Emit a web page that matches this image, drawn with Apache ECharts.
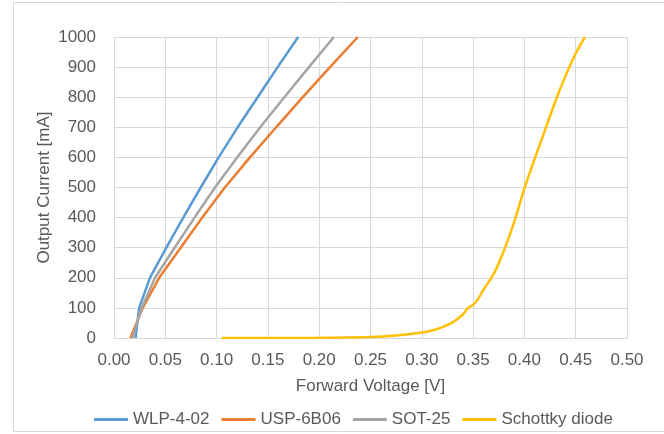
<!DOCTYPE html>
<html>
<head>
<meta charset="utf-8">
<script src="https://cdn.jsdelivr.net/npm/echarts@6/dist/echarts.min.js"></script>
<style>html,body{margin:0;padding:0;background:#fff}#c{width:664px;height:434px}</style>
</head>
<body>
<div id="c"></div>
<script>
const seriesNames = ['WLP-4-02', 'USP-6B06', 'SOT-25', 'Schottky diode'];
const xAxisTitle = 'Forward Voltage [V]';
const yAxisTitle = 'Output Current [mA]';
const xTickLabels = ['0.00','0.05','0.10','0.15','0.20','0.25','0.30','0.35','0.40','0.45','0.50'];
const yTickLabels = ['0','100','200','300','400','500','600','700','800','900','1000'];

const wlpV = [0.021, 0.0245, 0.035, 0.051, 0.0675, 0.0845, 0.102, 0.1205, 0.140, 0.1595, 0.1795];
const wlpI = [0, 100, 200, 300, 400, 500, 600, 700, 800, 900, 1000];

const uspV = [0.016, 0.028, 0.044, 0.065, 0.086, 0.108, 0.1325, 0.158, 0.184, 0.2105, 0.2377];
const uspI = [0, 100, 200, 300, 400, 500, 600, 700, 800, 900, 1000];

const sotV = [0.018, 0.027, 0.040, 0.059, 0.0785, 0.0984, 0.120, 0.1425, 0.166, 0.190, 0.2143];
const sotI = [0, 100, 200, 300, 400, 500, 600, 700, 800, 900, 1000];

const schV = [0.105, 0.15, 0.20, 0.25, 0.275, 0.30, 0.31, 0.32, 0.33, 0.34, 0.345, 0.35, 0.355, 0.36, 0.37, 0.38, 0.39, 0.40, 0.41, 0.42, 0.43, 0.44, 0.45, 0.459];
const schI = [0, 0, 0.5, 3, 8, 18, 25, 36, 52, 78, 100, 110, 130, 160, 212, 290, 385, 497, 595, 690, 785, 870, 945, 1000];

const colors = ['#5B9BD5', '#ED7D31', '#A5A5A5', '#FFC000'];
const pairs = (xs, ys) => xs.map((x, i) => [x, ys[i]]);
const dataSets = [pairs(wlpV, wlpI), pairs(uspV, uspI), pairs(sotV, sotI), pairs(schV, schI)];
const smoothing = [false, false, false, 0.25];

const txt = '#595959';
const font = 'Liberation Sans, Arial, sans-serif';
const chart = echarts.init(document.getElementById('c'), null, {renderer: 'canvas'});
chart.setOption({
  animation: false,
  color: colors,
  textStyle: {fontFamily: font, color: txt},
  graphic: [{
    type: 'rect', z: -10,
    shape: {x: 13.5, y: 2.5, width: 700, height: 429},
    style: {fill: '#fff', stroke: '#d9d9d9', lineWidth: 1}
  }, {
    type: 'text', x: 44, y: 187.5, rotation: Math.PI / 2,
    style: {text: yAxisTitle, fill: txt, font: '17px ' + font, align: 'center', verticalAlign: 'middle'}
  }],
  grid: {left: 114, right: 37, top: 37, bottom: 96, containLabel: false},
  legend: {
    data: seriesNames,
    icon: 'rect',
    left: 89, top: 406,
    itemWidth: 34, itemHeight: 3, itemGap: 12,
    textStyle: {fontFamily: font, fontSize: 17, color: txt}
  },
  xAxis: {
    type: 'value', min: 0, max: 0.5, interval: 0.05,
    name: xAxisTitle, nameLocation: 'middle', nameGap: 39.5,
    nameTextStyle: {fontFamily: font, fontSize: 17, color: txt},
    axisLine: {show: true, lineStyle: {color: '#d9d9d9', width: 1}},
    axisTick: {show: false},
    axisLabel: {fontFamily: font, fontSize: 17, color: txt, margin: 14,
      formatter: (v) => xTickLabels[Math.round(v / 0.05)]},
    splitLine: {show: true, lineStyle: {color: '#d9d9d9', width: 1}}
  },
  yAxis: {
    type: 'value', min: 0, max: 1000, interval: 100,
    axisLine: {show: false},
    axisTick: {show: false},
    axisLabel: {fontFamily: font, fontSize: 17, color: txt, margin: 18,
      formatter: (v) => yTickLabels[Math.round(v / 100)]},
    splitLine: {show: true, lineStyle: {color: '#d9d9d9', width: 1}}
  },
  series: seriesNames.map((n, i) => ({
    name: n, type: 'line', data: dataSets[i],
    symbol: 'none', smooth: smoothing[i],
    lineStyle: {width: 2.5, color: colors[i]},
    itemStyle: {color: colors[i]}
  }))
});
</script>
</body>
</html>
